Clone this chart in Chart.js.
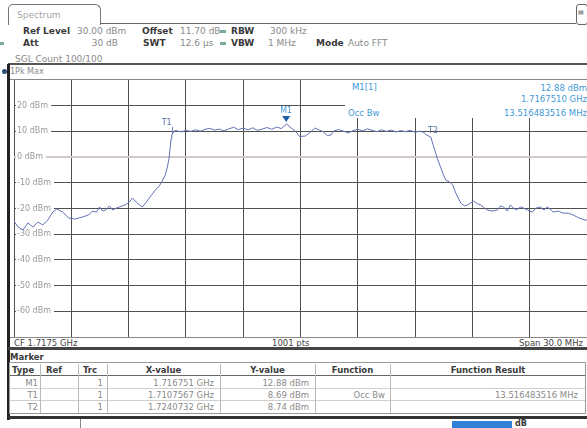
<!DOCTYPE html>
<html><head><meta charset="utf-8">
<script src="https://cdn.jsdelivr.net/npm/chart.js@4.4.1/dist/chart.umd.min.js"></script>
<style>
html,body{margin:0;padding:0;background:#fff}
body{width:587px;height:428px;position:relative;overflow:hidden;font-family:"DejaVu Sans",sans-serif;font-size:9px;color:#8a8a8a}
.t{position:absolute;white-space:nowrap;line-height:10px;height:10px}
.b{font-weight:bold;color:#3a3a3a}
.d{color:#444}
.r{text-align:right}
.c{text-align:center}
.ln{position:absolute}
.blue{color:#3f9ad8}
#wrap{position:absolute;left:8px;top:80px;width:579px;height:257px}
</style></head><body>
<script>
// ---- data (frequency in MHz, level in dBm) ----
const freqMHz = [
 1702.50,1702.71,1702.97,1703.23,1703.49,1703.75,1704.01,1704.27,1704.53,1704.74,
 1705.05,1705.36,1705.68,1706.09,1706.41,1706.61,1706.82,1706.98,1707.14,1707.30,
 1707.50,1707.66,1707.86,1708.02,1708.33,1708.54,1708.70,1708.90,1709.06,1709.22,
 1709.43,1709.58,1709.74,1709.90,1710.11,1710.26,1710.42,1710.52,1710.62,1710.68,
 1710.72,1710.76,1710.90,1711.00,1711.25,1711.50,1711.75,1712.00,1712.25,1712.50,
 1712.75,1713.00,1713.25,1713.50,1713.75,1714.00,1714.25,1714.50,1714.75,1715.00,
 1715.25,1715.50,1715.75,1716.00,1716.25,1716.50,1716.78,1717.00,1717.25,1717.45,
 1717.75,1718.00,1718.25,1718.50,1718.70,1718.90,1719.10,1719.25,1719.50,1719.75,
 1720.00,1720.25,1720.50,1720.75,1721.00,1721.25,1721.50,1721.75,1722.00,1722.25,
 1722.50,1722.75,1723.00,1723.25,1723.50,1723.75,1723.95,1724.07,1724.32,1724.48,
 1724.69,1724.95,1725.10,1725.31,1725.47,1725.63,1725.89,1726.09,1726.25,1726.56,
 1726.77,1726.93,1727.13,1727.29,1727.55,1727.81,1727.97,1728.13,1728.33,1728.49,
 1728.65,1728.81,1729.01,1729.17,1729.38,1729.64,1729.84,1730.05,1730.26,1730.41,
 1730.57,1730.73,1730.99,1731.25,1731.51,1731.77,1732.08,1732.40,1732.50
];
const levelDbm = [
 -24.9,-27.2,-28.4,-25.6,-27.2,-25.3,-26.4,-24.5,-21.4,-20.2,
 -21.4,-23.7,-24.1,-23.3,-22.5,-21.0,-21.4,-19.4,-21.0,-20.6,
 -19.0,-20.6,-19.8,-19.4,-18.6,-17.5,-15.9,-17.5,-18.6,-19.4,
 -17.5,-15.9,-14.4,-12.8,-11.2,-9.3,-7.0,-4.2,-0.4,3.9,
 7.0,8.69,10.2,10.3,9.8,10.4,10.0,10.6,10.1,10.8,
 11.2,10.5,10.9,10.2,11.0,11.6,10.7,11.3,10.6,11.4,
 10.4,10.9,11.5,10.8,11.7,11.1,12.88,11.4,10.0,8.0,
 8.2,9.6,11.3,10.5,9.8,8.4,8.6,10.2,10.7,10.1,
 9.4,10.3,10.8,10.2,11.0,10.4,9.9,10.6,10.0,10.5,
 9.8,10.3,9.9,10.4,9.7,10.1,9.6,8.74,7.8,3.9,
 -1.1,-6.2,-8.9,-9.7,-10.9,-14.0,-17.9,-19.0,-18.6,-17.1,
 -18.2,-18.6,-19.8,-20.6,-21.0,-20.6,-19.0,-19.4,-21.0,-18.6,
 -19.8,-20.6,-19.4,-19.8,-20.6,-21.4,-19.8,-19.4,-20.6,-19.4,
 -20.2,-21.4,-21.0,-21.8,-21.8,-22.5,-23.7,-24.5,-24.5
];
const xGridMHz = [1702.5,1705.5,1708.5,1711.5,1714.5,1717.5,1720.5,1723.5,1726.5,1729.5,1732.5];
const yGridDbm = [30,20,10,0,-10,-20,-30,-40,-50,-60,-70];
const yLabelled = [20,10,0,-10,-20,-30,-40,-50,-60];
const markerNames = ['M1','T1','T2'];
const markerFreqMHz = [1716.751,1710.7567,1724.0732];
const markerLevelDbm = [12.88,8.69,8.74];
</script>

<!-- tab & header -->
<div class="ln" style="left:8px;top:4px;width:91px;height:20px;border:1px solid #777;border-bottom:none;border-radius:5px 6px 0 0"></div>
<div class="t" style="left:17px;top:10px;color:#a5a5a5">Spectrum</div>
<div class="ln" style="left:100px;top:23px;width:476px;height:1px;background:#666"></div>
<div class="ln" style="left:576px;top:4px;width:10px;height:19px;border:1px solid #666;border-radius:3px"></div>
<div class="t" style="left:578px;top:7px;font-size:6px;color:#555">▤</div>

<div class="t b" style="left:23px;top:26px">Ref Level</div>
<div class="t" style="left:77px;top:26px">30.00 dBm</div>
<div class="t b" style="left:142px;top:26px">Offset</div>
<div class="t" style="left:180px;top:26px">11.70 dB</div>
<div class="ln" style="left:220px;top:30px;width:6px;height:3px;background:#7a9"></div>
<div class="t b" style="left:231px;top:26px">RBW</div>
<div class="t" style="left:270px;top:26px">300 kHz</div>

<div class="ln" style="left:0px;top:42px;width:4px;height:3px;background:#7a9"></div>
<div class="t b" style="left:23px;top:38px">Att</div>
<div class="t r" style="left:70px;top:38px;width:48px">30 dB</div>
<div class="t b" style="left:143px;top:38px">SWT</div>
<div class="t" style="left:180px;top:38px">12.6 µs</div>
<div class="ln" style="left:220px;top:42px;width:6px;height:3px;background:#7a9"></div>
<div class="t b" style="left:231px;top:38px">VBW</div>
<div class="t" style="left:268px;top:38px">1 MHz</div>
<div class="t b" style="left:316px;top:38px">Mode</div>
<div class="t" style="left:348px;top:38px">Auto FFT</div>

<div class="t" style="left:15px;top:54px">SGL Count 100/100</div>
<div class="ln" style="left:8px;top:63px;width:579px;height:2px;background:#555"></div>

<div class="ln" style="left:2px;top:69px;width:5px;height:5px;border-radius:50%;background:#2b4f7a"></div>
<div class="t" style="left:10px;top:67px;font-size:8px">1Pk Max</div>
<div class="ln" style="left:8px;top:79px;width:579px;height:1px;background:#888"></div>
<div class="ln" style="left:7px;top:64px;width:3px;height:356px;background:#222"></div>

<div id="wrap"><canvas id="c"></canvas></div>

<!-- marker info box -->
<div class="ln" style="left:345px;top:80px;width:242px;height:38px;background:#fff"></div>
<div class="t blue" style="left:352px;top:82px;font-size:8.5px">M1[1]</div>
<div class="t blue r" style="left:440px;top:83px;width:147px;font-size:8.5px">12.88 dBm</div>
<div class="t blue r" style="left:440px;top:94px;width:147px;font-size:8.5px">1.7167510 GHz</div>
<div class="t blue" style="left:348px;top:108px;font-size:8.5px">Occ Bw</div>
<div class="t blue r" style="left:420px;top:108px;width:167px;font-size:8.5px">13.516483516 MHz</div>

<!-- bottom info row -->
<div class="ln" style="left:10px;top:337px;width:577px;height:1px;background:#888"></div>
<div class="t d" style="left:14px;top:338px;font-size:8.5px">CF 1.7175 GHz</div>
<div class="t d" style="left:272px;top:338px;font-size:8.5px">1001 pts</div>
<div class="t d r" style="left:480px;top:338px;width:103px;font-size:8.5px">Span 30.0 MHz</div>
<div class="ln" style="left:8px;top:347px;width:579px;height:3px;background:#444"></div>

<!-- marker table -->
<div class="t b" style="left:10px;top:352px;font-size:8.5px">Marker</div>
<div class="ln" style="left:9px;top:362px;width:577px;height:52px;border:1px solid #999;box-sizing:border-box"></div>
<div class="t b" style="left:12px;top:365px;font-size:8.5px">Type</div>
<div class="t b" style="left:46px;top:365px;font-size:8.5px">Ref</div>
<div class="t b" style="left:83px;top:365px;font-size:8.5px">Trc</div>
<div class="t b c" style="left:107px;top:365px;width:113px;font-size:8.5px">X-value</div>
<div class="t b c" style="left:220px;top:365px;width:95px;font-size:8.5px">Y-value</div>
<div class="t b c" style="left:315px;top:365px;width:75px;font-size:8.5px">Function</div>
<div class="t b c" style="left:390px;top:365px;width:196px;font-size:8.5px">Function Result</div>
<div class="ln" style="left:10px;top:375px;width:575px;height:1px;background:#666"></div>
<div class="ln" style="left:10px;top:388px;width:575px;height:1px;background:#d0d0d0"></div>
<div class="ln" style="left:10px;top:400px;width:575px;height:1px;background:#d0d0d0"></div>
<div class="ln" style="left:40px;top:364px;width:1px;height:49px;background:#bbb"></div>
<div class="ln" style="left:78px;top:364px;width:1px;height:49px;background:#bbb"></div>
<div class="ln" style="left:107px;top:364px;width:1px;height:49px;background:#bbb"></div>
<div class="ln" style="left:220px;top:364px;width:1px;height:49px;background:#bbb"></div>
<div class="ln" style="left:315px;top:364px;width:1px;height:49px;background:#bbb"></div>
<div class="ln" style="left:390px;top:364px;width:1px;height:49px;background:#bbb"></div>

<div class="t r" style="left:12px;top:378px;width:26px;font-size:8.5px">M1</div>
<div class="t r" style="left:80px;top:378px;width:23px;font-size:8.5px">1</div>
<div class="t r" style="left:110px;top:378px;width:104px;font-size:8.5px">1.716751 GHz</div>
<div class="t r" style="left:222px;top:378px;width:87px;font-size:8.5px">12.88 dBm</div>

<div class="t r" style="left:12px;top:390px;width:26px;font-size:8.5px">T1</div>
<div class="t r" style="left:80px;top:390px;width:23px;font-size:8.5px">1</div>
<div class="t r" style="left:110px;top:390px;width:104px;font-size:8.5px">1.7107567 GHz</div>
<div class="t r" style="left:222px;top:390px;width:87px;font-size:8.5px">8.69 dBm</div>
<div class="t r" style="left:318px;top:390px;width:67px;font-size:8.5px">Occ Bw</div>
<div class="t r" style="left:395px;top:390px;width:183px;font-size:8.5px">13.516483516 MHz</div>

<div class="t r" style="left:12px;top:402px;width:26px;font-size:8.5px">T2</div>
<div class="t r" style="left:80px;top:402px;width:23px;font-size:8.5px">1</div>
<div class="t r" style="left:110px;top:402px;width:104px;font-size:8.5px">1.7240732 GHz</div>
<div class="t r" style="left:222px;top:402px;width:87px;font-size:8.5px">8.74 dBm</div>

<div class="ln" style="left:8px;top:416px;width:579px;height:3px;background:#333"></div>
<div class="ln" style="left:80px;top:419px;width:1px;height:9px;background:#888"></div>
<div class="ln" style="left:452px;top:421px;width:60px;height:7px;background:#2f80d6"></div>
<div class="t b" style="left:515px;top:419px;font-size:8px">dB</div>

<script>
const markerPlugin = {
  id: 'markers',
  afterDatasetsDraw(chart) {
    const {ctx, scales: {x, y}} = chart;
    ctx.save();
    ctx.font = '8px "DejaVu Sans"';
    ctx.textBaseline = 'middle';
    markerNames.forEach((n, i) => {
      const px = x.getPixelForValue(markerFreqMHz[i]);
      const py = y.getPixelForValue(markerLevelDbm[i]);
      if (n === 'M1') {
        ctx.fillStyle = '#1d5ea6';
        ctx.beginPath();
        ctx.moveTo(px - 4, py - 8);
        ctx.lineTo(px + 4, py - 8);
        ctx.lineTo(px, py - 2);
        ctx.closePath();
        ctx.fill();
        ctx.fillStyle = '#4a9bd6';
        ctx.textAlign = 'center';
        ctx.fillText(n, px, py - 13);
      } else if (n === 'T1') {
        ctx.strokeStyle = '#6a86b8';
        ctx.lineWidth = 1;
        ctx.beginPath();
        ctx.moveTo(Math.round(px) + 0.5, py - 8);
        ctx.lineTo(Math.round(px) + 0.5, py);
        ctx.stroke();
        ctx.fillStyle = '#55709f';
        ctx.textAlign = 'right';
        ctx.fillText(n, px, py - 12);
      } else {
        ctx.fillStyle = '#55709f';
        ctx.textAlign = 'left';
        ctx.fillText(n, px + 2, py - 4);
      }
    });
    ctx.restore();
  }
};

new Chart(document.getElementById('c'), {
  type: 'line',
  data: {
    datasets: [{
      data: freqMHz.map((f, i) => ({x: f, y: levelDbm[i]})),
      borderColor: '#6272b8',
      borderWidth: 1,
      pointRadius: 0,
      tension: 0,
      fill: false
    }]
  },
  options: {
    responsive: true,
    maintainAspectRatio: false,
    animation: false,
    layout: {padding: 0},
    plugins: {legend: {display: false}, tooltip: {enabled: false}},
    scales: {
      x: {
        type: 'linear',
        min: xGridMHz[0],
        max: xGridMHz[xGridMHz.length - 1],
        afterBuildTicks: s => { s.ticks = xGridMHz.map(v => ({value: v})); },
        ticks: {display: false},
        border: {display: false},
        grid: {color: '#505050', lineWidth: 1, drawTicks: false}
      },
      y: {
        type: 'linear',
        min: yGridDbm[yGridDbm.length - 1],
        max: yGridDbm[0],
        afterBuildTicks: s => { s.ticks = yGridDbm.map(v => ({value: v})); },
        afterFit: s => { s.paddingTop = 0; s.paddingBottom = 0; },
        border: {display: false},
        grid: {
          drawTicks: false,
          color: c => (c.tick && c.tick.value === 0) ? '#d2c8c8' : '#505050',
          lineWidth: c => (c.tick && c.tick.value === 0) ? 2 : 1
        },
        ticks: {
          mirror: true,
          padding: 3,
          color: '#9a9a9a',
          font: {family: 'DejaVu Sans', size: 8},
          showLabelBackdrop: true,
          backdropColor: '#ffffff',
          backdropPadding: {top: 0, bottom: 0, left: 1, right: 3},
          callback: v => yLabelled.includes(v) ? v + ' dBm' : null
        }
      }
    }
  },
  plugins: [markerPlugin]
});
</script>
</body></html>
